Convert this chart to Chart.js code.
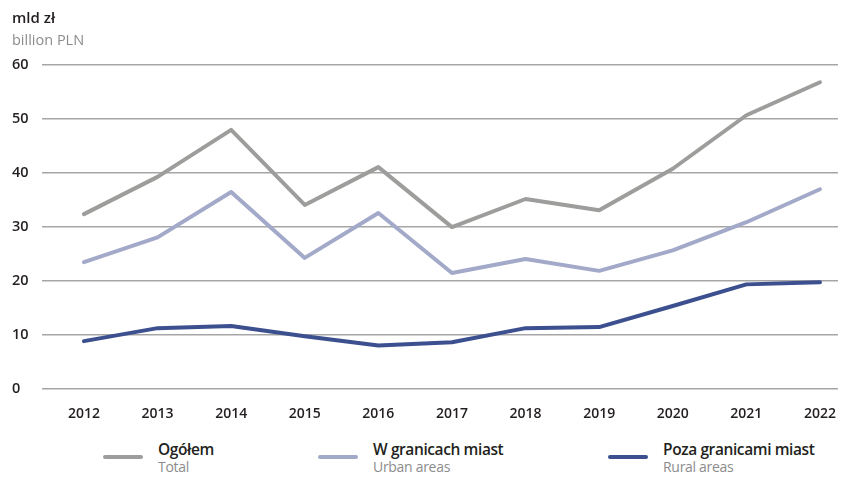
<!DOCTYPE html>
<html>
<head>
<meta charset="utf-8">
<script src="https://cdn.jsdelivr.net/npm/chart.js@4/dist/chart.umd.min.js"></script>
<style>
  body { margin: 0; background: #fff; font-family: 'Open Sans', sans-serif; }
  #wrap { position: relative; width: 846px; height: 477px; }
  #chart { position: absolute; left: 0; top: 0; }
  .legend { position: absolute; top: 438px; left: 0; width: 846px; height: 39px; }
  .item { position: absolute; top: 0; }
  .swatch { position: absolute; top: 17px; left: 0; width: 40px; height: 4px; border-radius: 2px; }
  .item strong { position: absolute; left: 55px; top: 0; white-space: nowrap; font-size: 15.5px; font-weight: 600; color: #231f20; letter-spacing: -0.4px; }
  .item small { position: absolute; left: 55px; top: 19px; white-space: nowrap; font-size: 14px; color: #8c8c8c; letter-spacing: -0.3px; }
</style>
</head>
<body>
<div id="wrap">
  <canvas id="chart" width="846" height="430"></canvas>
  <div class="legend" id="legend"></div>
</div>
<script>
const years = [2012, 2013, 2014, 2015, 2016, 2017, 2018, 2019, 2020, 2021, 2022];
const yTicks = [0, 10, 20, 30, 40, 50, 60];
const total = [32.4, 39.3, 48.0, 34.1, 41.1, 30.0, 35.2, 33.1, 40.8, 50.7, 56.8];
const urban = [23.5, 28.1, 36.5, 24.3, 32.6, 21.5, 24.1, 21.9, 25.7, 30.9, 37.0];
const rural = [8.9, 11.3, 11.7, 9.8, 8.1, 8.7, 11.3, 11.5, 15.4, 19.4, 19.8];
const seriesNames = [['Ogółem', 'Total'], ['W granicach miast', 'Urban areas'], ['Poza granicami miast', 'Rural areas']];
const seriesColors = ['#9d9d9c', '#a3a9c8', '#3c4f8f'];
const legendLeft = [103, 318, 608];

const font = "'Open Sans', sans-serif";

const titlePlugin = {
  id: 'unitTitle',
  afterDraw(chart) {
    const ctx = chart.ctx;
    ctx.save();
    ctx.textBaseline = 'alphabetic';
    ctx.textAlign = 'left';
    ctx.fillStyle = '#231f20';
    ctx.font = `600 15px ${font}`;
    ctx.fillText('mld zł', 12, 23);
    ctx.fillStyle = '#8c8c8c';
    ctx.font = `14.5px ${font}`;
    ctx.fillText('billion PLN', 12, 45);
    ctx.restore();
  }
};

const datasets = [total, urban, rural].map((values, i) => ({
  label: seriesNames[i][0],
  data: values.map((v, j) => ({ x: years[j], y: v })),
  borderColor: seriesColors[i],
  borderWidth: 4,
  pointRadius: 0,
  tension: 0,
  borderCapStyle: 'round',
  borderJoinStyle: 'round'
}));
// draw rural on top
datasets.reverse();

new Chart(document.getElementById('chart'), {
  type: 'line',
  data: { datasets },
  options: {
    responsive: false,
    animation: false,
    layout: { padding: { top: 65, left: 12, right: 8, bottom: 0 } },
    plugins: { legend: { display: false }, tooltip: { enabled: false } },
    scales: {
      x: {
        type: 'linear',
        min: 2011.43,
        max: 2022.245,
        afterBuildTicks: scale => { scale.ticks = years.map(v => ({ value: v })); },
        ticks: { color: '#231f20', font: { family: font, size: 14, weight: '600' }, padding: 8, callback: v => String(v) },
        grid: { display: false },
        border: { display: false }
      },
      y: {
        min: 0,
        max: 60,
        afterBuildTicks: scale => { scale.ticks = yTicks.map(v => ({ value: v })); },
        afterFit: scale => { scale.width = 30; },
        ticks: { color: '#231f20', font: { family: font, size: 14.5, weight: '600' }, crossAlign: 'far', padding: 12 },
        grid: { color: '#a6a6a6', lineWidth: 1.5, drawTicks: false },
        border: { display: false }
      }
    }
  },
  plugins: [titlePlugin]
});

document.getElementById('legend').innerHTML = seriesNames.map((n, i) => `
  <div class="item" style="left:${legendLeft[i]}px">
    <div class="swatch" style="background:${seriesColors[i]}"></div>
    <strong>${n[0]}</strong>
    <small>${n[1]}</small>
  </div>`).join('');
</script>
</body>
</html>
